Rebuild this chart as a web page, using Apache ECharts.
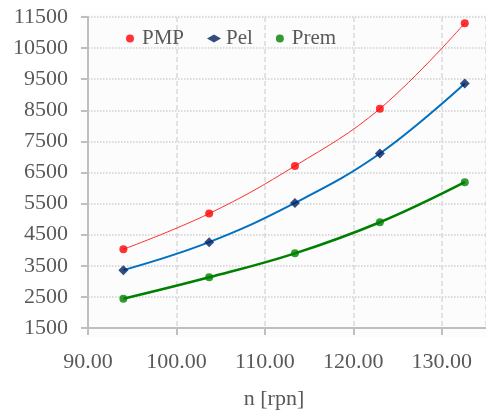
<!DOCTYPE html>
<html>
<head>
<meta charset="utf-8">
<script src="https://cdn.jsdelivr.net/npm/echarts@6/dist/echarts.min.js"></script>
<style>
html,body{margin:0;padding:0;background:#fff;}
#chart{width:486px;height:414px;}
</style>
</head>
<body>
<div id="chart"></div>
<script>
const nValues = [94.0, 103.7, 113.4, 123.0, 132.6];
const pmpValues = [4030, 5180, 6710, 8550, 11300];
const pelValues = [3360, 4260, 5520, 7110, 9360];
const premValues = [2440, 3130, 3900, 4900, 6190];
const seriesNames = ['PMP', 'Pel', 'Prem'];
const xAxisTitle = 'n [rpn]';

function pairs(ys) { return nValues.map((x, i) => [x, ys[i]]); }

const FONT = '"Liberation Serif", "Times New Roman", serif';
const TXT = '#595959';

const chart = echarts.init(document.getElementById('chart'), null, {renderer: 'canvas'});
chart.setOption({
  animation: false,
  backgroundColor: '#ffffff',
  textStyle: {fontFamily: FONT},
  graphic: [
    {type: 'rect', z: -10, silent: true, shape: {x: 80, y: 14, width: 406, height: 323}, style: {fill: '#fcfcfc'}},
    {type: 'text', style: {x: 274, y: 399, text: xAxisTitle, fill: TXT, font: '22px ' + FONT, textAlign: 'center', textVerticalAlign: 'middle'}}
  ],
  legend: {
    data: seriesNames,
    left: 121, top: 23,
    itemWidth: 14, itemHeight: 8,
    itemGap: 23,
    textStyle: {fontFamily: FONT, fontSize: 21, color: TXT}
  },
  grid: {left: 88, right: -4, top: 17, bottom: 86, containLabel: false},
  xAxis: {
    type: 'value', min: 90, max: 135, interval: 10,
    axisLine: {show: true, lineStyle: {color: '#BFBFBF', width: 2}},
    axisTick: {show: true, length: 7, lineStyle: {color: '#BFBFBF', width: 2}},
    axisLabel: {show: true, showMaxLabel: false, margin: 23, color: TXT, fontFamily: FONT, fontSize: 22,
      formatter: v => v.toFixed(2)},
    splitLine: {show: true, lineStyle: {color: '#D9D9D9', type: [5, 3], width: 1.5}}
  },
  yAxis: {
    type: 'value', min: 1500, max: 11500, interval: 1000,
    axisLine: {show: true, lineStyle: {color: '#BFBFBF', width: 2}},
    axisTick: {show: true, length: 7, lineStyle: {color: '#BFBFBF', width: 2}},
    axisLabel: {margin: 20, color: TXT, fontFamily: FONT, fontSize: 22, formatter: v => String(v)},
    splitLine: {show: true, lineStyle: {color: '#D0D0D0', type: 'dotted', width: 1.5}}
  },
  series: [
    {name: 'PMP trend', type: 'line', data: pairs(pmpValues), smooth: 0.4, showSymbol: false, symbol: 'none',
      lineStyle: {color: '#FF3030', width: 1}, z: 2},
    {name: 'Pel trend', type: 'line', data: pairs(pelValues), smooth: 0.4, showSymbol: false, symbol: 'none',
      lineStyle: {color: '#0070C0', width: 2}, z: 2},
    {name: 'Prem trend', type: 'line', data: pairs(premValues), smooth: 0.4, showSymbol: false, symbol: 'none',
      lineStyle: {color: '#008000', width: 2.5}, z: 2},
    {name: 'PMP', type: 'scatter', data: pairs(pmpValues), symbol: 'circle', symbolSize: 8,
      itemStyle: {color: '#FF0000'}, z: 5},
    {name: 'Pel', type: 'scatter', data: pairs(pelValues), symbol: 'diamond', symbolSize: 10,
      itemStyle: {color: '#002060'}, z: 5},
    {name: 'Prem', type: 'scatter', data: pairs(premValues), symbol: 'circle', symbolSize: 8,
      itemStyle: {color: '#008000'}, z: 5}
  ]
});
</script>
</body>
</html>
